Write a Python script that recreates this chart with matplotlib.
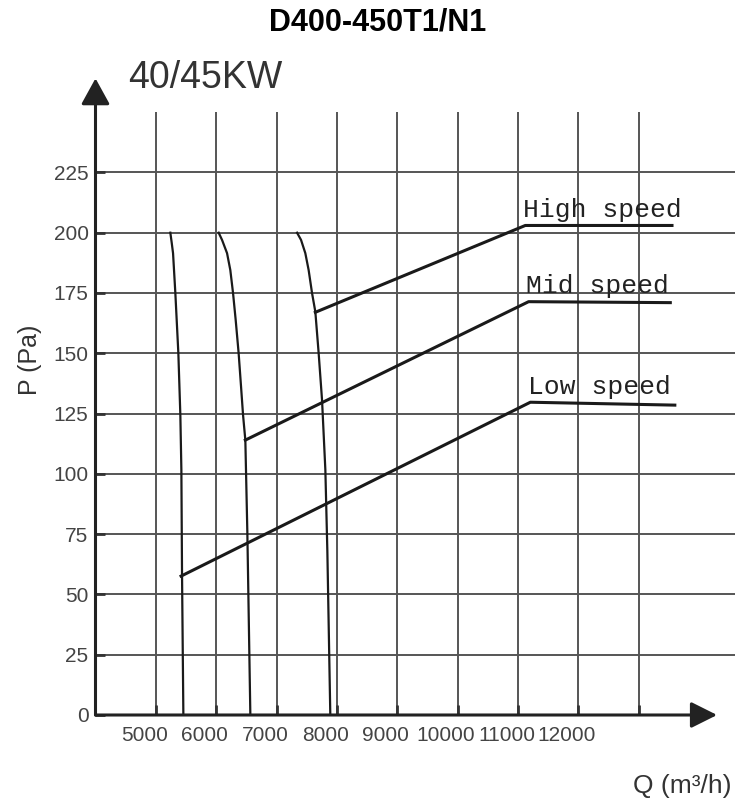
import matplotlib
matplotlib.use('Agg')
import matplotlib.pyplot as plt
from matplotlib import font_manager

# fan performance chart D400-450T1/N1 (40/45KW)
q_labels = [5000, 6000, 7000, 8000, 9000, 10000, 11000, 12000]
q_grid = [5000, 6000, 7000, 8000, 9000, 10000, 11000, 12000, 13000]
p_ticks = [0, 25, 50, 75, 100, 125, 150, 175, 200, 225]

# near-vertical curves
low_curve_q = [5240, 5262, 5285, 5323, 5373, 5406, 5423, 5434, 5456]
low_curve_p = [200, 196, 191.5, 175, 150, 124.4, 101.6, 58, 0]
mid_curve_q = [6041, 6097, 6180, 6234, 6279, 6323, 6372, 6412, 6445, 6483, 6516, 6566]
mid_curve_p = [200, 197, 191.5, 184.5, 175, 163.8, 150, 136.1, 124.4, 114, 76, 0]
high_curve_q = [7340, 7406, 7477, 7532, 7588, 7643, 7698, 7754, 7809, 7842, 7891]
high_curve_p = [200, 197, 191.5, 184.5, 175, 167.2, 150, 130.6, 101.6, 68, 0]

# speed lines (start, kink, end)
speed_names = ['High speed', 'Mid speed', 'Low speed']
speed_q = [[7643, 11122, 13553], [6483, 11177, 13525], [5418, 11206, 13600]]
speed_p = [[167, 203, 203], [114, 171.4, 171], [57.6, 129.7, 128.5]]

available = {f.name for f in font_manager.fontManager.ttflist}
narrow = 'Liberation Sans Narrow' if 'Liberation Sans Narrow' in available else 'Liberation Sans'

W, H = 740, 808
fig = plt.figure(figsize=(W / 100, H / 100), dpi=100)
fig.patch.set_facecolor('white')

# axes placed so the y axis sits at Q=4000 and P=0 on the x axis
x_left, x_right = 4000, 14680
y_bot, y_top = 0, 270
ax = fig.add_axes([95.5 / W, (H - 715) / H, (W - 95.5) / W, (715 - 63.9) / H])
ax.set_xlim(x_left, x_right)
ax.set_ylim(y_bot, y_top)
for s in ax.spines.values():
    s.set_visible(False)
ax.patch.set_alpha(0)

grid_col = '#555555'
ax.hlines(p_ticks[1:], x_left, 14600, color=grid_col, lw=1.4, zorder=1)
ax.vlines(q_grid, 0, 250, color=grid_col, lw=1.4, zorder=1)

line_col = '#1a1a1a'
for cq, cp in [(low_curve_q, low_curve_p), (mid_curve_q, mid_curve_p), (high_curve_q, high_curve_p)]:
    ax.plot(cq, cp, color=line_col, lw=1.6, zorder=3, solid_joinstyle='round')

for name, sq, sp in zip(speed_names, speed_q, speed_p):
    ax.plot(sq, sp, color=line_col, lw=2.2, zorder=3)
    ax.text(sq[1] - 40, sp[1] + 1.5, name, family='Liberation Mono', fontsize=19,
            color='#222222', ha='left', va='bottom', zorder=4)

# axes arrows
a1 = ax.annotate('', xy=(x_left, 264), xytext=(x_left, 0), annotation_clip=False,
                 arrowprops=dict(arrowstyle='-|>,head_length=1.0,head_width=0.55',
                                 mutation_scale=16, lw=2.2, color='#222222',
                                 shrinkA=0, shrinkB=0))
a2 = ax.annotate('', xy=(14300, 0), xytext=(x_left, 0), annotation_clip=False,
                 arrowprops=dict(arrowstyle='-|>,head_length=1.0,head_width=0.5',
                                 mutation_scale=16, lw=2.2, color='#222222',
                                 shrinkA=0, shrinkB=0))
a1.arrow_patch.set_clip_on(False)
a2.arrow_patch.set_clip_on(False)

# ticks
ax.set_yticks(p_ticks)
ax.set_yticklabels([str(p) for p in p_ticks])
ax.tick_params(axis='y', direction='in', length=7, width=2, color='#333333',
               labelcolor='#444444', pad=5, labelsize=15)
ax.set_xticks([q - 190 for q in q_labels])
ax.set_xticklabels([str(q) for q in q_labels])
ax.set_xticks(q_grid, minor=True)
ax.tick_params(axis='x', which='major', length=0, labelcolor='#444444', pad=8, labelsize=15)
ax.tick_params(axis='x', which='minor', direction='in', length=7, width=2, color='#333333')
for lab in ax.get_xticklabels() + ax.get_yticklabels():
    lab.set_family(narrow)

# titles and axis names
fig.text(377.5 / W, 1 - 22.5 / H, 'D400-450T1/N1', family='Liberation Sans',
         fontweight='bold', fontsize=22, ha='center', va='center', color='black')
fig.text(128 / W, 1 - 88 / H, '40/45KW', family='Liberation Sans', fontsize=27,
         ha='left', va='baseline', color='#333333')
fig.text(29.5 / W, 1 - 360 / H, 'P (Pa)', family=narrow, fontsize=18,
         rotation=90, ha='center', va='center', color='#333333')
fig.text(682 / W, 1 - 786 / H, 'Q (m³/h)', family=narrow, fontsize=19,
         ha='center', va='center', color='#333333')

fig.savefig('out.png', dpi=100, facecolor='white')
